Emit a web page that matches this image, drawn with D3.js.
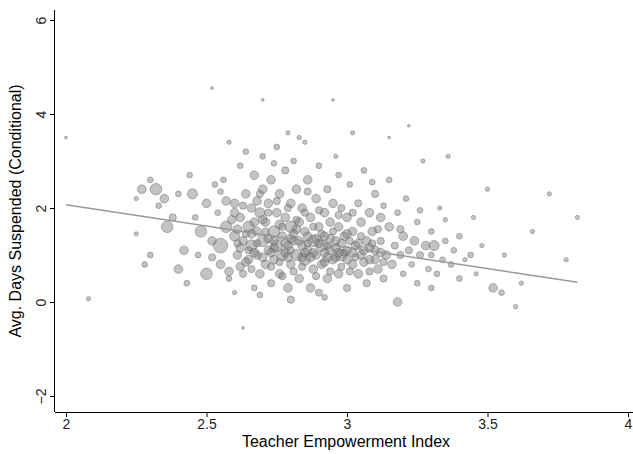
<!DOCTYPE html><html><head><meta charset="utf-8">
<script src="https://cdn.jsdelivr.net/npm/d3@7"></script>
<style>body{margin:0;background:#fff}</style></head><body><svg id="c" width="633" height="454"></svg>
<script>
const xTicks=[2,2.5,3,3.5,4];
const yTicks=[-2,0,2,4,6];
const xLabel="Teacher Empowerment Index";
const yLabel="Avg. Days Suspended (Conditional)";
const fitLine=[[2,2.07],[3.82,0.42]];
// [index, days, weight-radius]
const schools=[
[2.0,3.5,1],[2.08,0.07,1.5],[2.25,2.2,1.5],[2.27,2.4,3],[2.3,2.6,2],[2.32,2.4,4],[2.28,0.8,2],[2.35,2.2,3],[2.36,1.6,4],[2.38,1.8,2.5],
[2.4,2.3,2],[2.42,1.1,3],[2.4,0.7,3],[2.43,0.4,2],[2.45,2.3,3.5],[2.46,1.8,2],[2.48,1.5,4],[2.5,0.6,4],[2.5,2.1,3],[2.52,1.3,3],
[2.52,0.95,2.5],[2.54,1.9,2],[2.55,1.2,5],[2.55,0.8,3],[2.56,2.6,2],[2.57,1.6,4],[2.58,0.5,2],[2.58,3.4,1.5],[2.6,2.1,3],[2.6,1.4,3.5],
[2.6,0.2,1.5],[2.61,1.0,3],[2.62,1.8,3],[2.62,2.9,2],[2.63,1.3,3],[2.63,0.6,2.5],[2.64,2.3,3],[2.64,3.2,2],[2.65,1.6,4],[2.65,0.9,3],
[2.66,2.0,3],[2.66,1.2,4],[2.67,0.3,2],[2.67,2.7,3],[2.68,1.5,3],[2.68,1.0,3],[2.69,1.9,3.5],[2.69,0.6,3],[2.7,2.4,3],[2.7,1.3,4],
[2.7,3.1,2],[2.71,0.8,3],[2.71,1.7,3],[2.72,2.1,3],[2.72,1.1,3],[2.73,0.4,2.5],[2.73,2.6,3],[2.74,1.5,4],[2.74,0.9,3],[2.75,1.9,3],
[2.75,3.3,2],[2.75,1.2,4],[2.76,0.6,3],[2.76,2.3,3],[2.77,1.4,3],[2.77,1.0,4],[2.78,1.8,3],[2.78,2.8,2.5],[2.79,0.3,3],[2.79,1.2,3],
[2.8,1.6,4],[2.8,2.1,3],[2.8,0.8,3],[2.81,3.0,2],[2.81,1.3,3],[2.82,1.0,4],[2.82,2.4,3],[2.83,0.5,3],[2.83,1.7,3],[2.84,1.2,3],
[2.84,2.0,3],[2.85,0.9,4],[2.85,1.5,3],[2.85,3.4,1.5],[2.86,2.6,3],[2.86,1.1,3],[2.87,0.3,3],[2.87,1.8,3],[2.88,1.3,4],[2.88,0.7,3],
[2.89,2.2,3],[2.89,1.0,3],[2.9,1.6,3],[2.9,0.2,2.5],[2.9,2.9,2],[2.91,1.2,4],[2.91,0.8,3],[2.92,1.9,3],[2.92,1.4,3],[2.93,2.4,2.5],
[2.93,0.5,3],[2.94,1.1,3],[2.94,1.7,3],[2.95,0.9,3],[2.95,2.1,3],[2.96,1.3,3],[2.96,3.1,1.5],[2.97,0.6,3],[2.97,1.6,3],[2.98,1.0,4],
[2.98,2.0,2.5],[2.99,1.4,3],[3.0,0.3,2.5],[3.0,1.8,3],[3.0,1.1,3],[3.01,2.5,2],[3.02,0.8,3],[3.02,1.5,3],[3.03,1.2,3],[3.04,2.1,2.5],
[3.04,0.6,3],[3.05,1.0,3],[3.05,1.7,3],[3.06,2.8,2],[3.07,1.3,3],[3.07,0.4,2.5],[3.08,1.9,3],[3.08,0.9,3],[3.09,1.5,3],[3.1,1.1,3],
[3.1,2.3,2.5],[3.11,0.7,3],[3.12,1.3,2.5],[3.12,1.8,3],[3.13,0.5,2.5],[3.14,1.0,3],[3.15,1.6,3],[3.15,2.6,2],[3.16,0.8,3],[3.17,1.2,2.5],
[3.18,0.0,3],[3.18,1.9,2],[3.19,1.0,2.5],[3.2,1.4,3],[3.2,0.6,2],[3.21,2.2,2],[3.22,1.1,2.5],[3.23,0.8,2],[3.24,1.3,3],[3.25,0.4,2],
[3.25,1.7,2],[3.26,1.0,2.5],[3.27,3.0,1.5],[3.28,1.2,3],[3.29,0.7,2],[3.3,1.0,2],[3.3,1.5,2],[3.31,1.2,3.5],[3.32,0.6,2],[3.33,2.0,1.5],
[3.34,0.9,2],[3.35,1.3,2],[3.36,3.1,1.5],[3.37,0.8,2],[3.38,1.1,2],[3.4,0.5,2],[3.4,1.4,2],[3.42,0.9,1.5],[3.44,1.0,2],[3.46,0.6,1.5],
[3.48,1.2,1.5],[3.5,2.4,1.5],[3.52,0.3,3],[3.55,0.2,2],[3.56,1.0,1.5],[3.6,-0.1,1.5],[3.62,0.4,1.5],[3.66,1.5,1.5],[3.72,2.3,1.5],[3.78,0.9,1.5],
[3.82,1.8,1.5],[2.63,-0.55,1],[2.52,4.55,1],[2.79,3.6,1.5],[2.83,3.5,1.5],[2.95,4.3,1],[3.02,3.6,1.5],[3.15,3.5,1],[3.22,3.75,1],[2.7,4.3,1],
[2.55,2.35,2],[2.57,2.15,3],[2.59,1.75,3],[2.61,1.55,3],[2.62,1.15,3],[2.64,0.85,3],[2.66,1.45,3],[2.68,2.15,3],[2.7,1.75,3],[2.72,1.35,3],
[2.74,1.15,3],[2.76,1.65,3],[2.78,1.05,3],[2.8,1.35,3],[2.82,1.55,3],[2.84,0.95,3],[2.86,1.4,3],[2.88,1.05,3],[2.9,1.25,3],[2.92,1.05,3],
[2.94,1.35,3],[2.96,0.95,3],[2.98,1.25,3],[3.0,1.45,3],[3.02,1.05,3],[3.04,1.25,3],[3.06,0.85,3],[3.08,1.15,3],[3.1,0.9,3],[3.12,1.05,3],
[2.25,1.45,1.5],[2.3,1.0,2],[2.33,2.05,2],[2.44,2.7,2],[2.47,1.0,2],[2.53,2.5,2],[2.58,0.65,3],[2.69,0.15,2],[2.8,0.05,2.5],[2.92,0.1,2],
[2.74,2.95,2],[2.86,2.35,2.5],[2.97,2.7,2],[3.09,2.55,2],[3.13,2.05,2],[3.19,1.55,2.5],[3.26,1.95,2],[3.3,0.3,2],[3.35,1.75,1.5],[3.45,1.8,1.5]
];
const schoolsCore=[
[2.6,1.9,3],[2.61,1.25,2.5],[2.62,0.75,3],[2.63,2.05,2.5],[2.64,1.45,2.5],[2.65,1.1,2.5],[2.66,0.7,2.5],[2.67,1.7,3],[2.68,1.25,2.5],[2.69,2.3,2.5],
[2.7,0.95,3],[2.71,1.5,2.5],[2.72,1.9,2.5],[2.73,0.75,2.5],[2.74,1.3,3],[2.75,2.15,2.5],[2.76,0.85,2.5],[2.77,1.6,2.5],[2.78,1.25,3],[2.79,2.0,2.5],
[2.8,1.1,2.5],[2.81,0.65,2.5],[2.82,1.75,2.5],[2.83,1.3,3],[2.84,0.75,2.5],[2.85,1.9,2.5],[2.86,1.25,2.5],[2.87,0.95,3],[2.88,1.6,2.5],[2.89,0.55,2.5],
[2.9,1.95,2.5],[2.91,1.45,2.5],[2.92,0.85,3],[2.93,1.2,2.5],[2.94,0.65,2.5],[2.95,1.5,2.5],[2.96,1.15,3],[2.97,1.85,2.5],[2.98,0.75,2.5],[2.99,1.05,2.5],
[3.0,0.9,3],[3.01,1.3,2.5],[3.02,1.9,2.5],[3.03,0.95,2.5],[3.05,1.4,2.5],[3.06,1.1,3],[3.08,0.65,2.5],[3.09,1.25,2.5],[3.11,1.55,2.5],[3.13,0.85,2.5],
[2.73,1.05,3],[2.77,0.55,2.5],[2.81,1.45,3],[2.85,1.05,3],[2.89,1.35,3],[2.93,0.95,3],[2.97,1.05,3],[3.01,0.65,2.5],[2.79,0.95,3],[2.67,1.05,3]
];
const data=schools.concat(schoolsCore);
const W=633,H=454,m={l:55,r:5,t:10,b:42};
const svg=d3.select("#c");
const x=d3.scaleLinear().domain([2,4]).range([66,628]);
const y=d3.scaleLinear().domain([-2,6]).range([396,20]);
svg.append("g").selectAll("circle").data(data).join("circle")
 .attr("cx",d=>x(d[0])).attr("cy",d=>y(d[1])).attr("r",d=>d[2]*1.45)
 .attr("fill","#808080").attr("fill-opacity",0.47).attr("stroke","#555").attr("stroke-opacity",0.55).attr("stroke-width",0.7);
svg.append("line").attr("x1",x(fitLine[0][0])).attr("y1",y(fitLine[0][1])).attr("x2",x(fitLine[1][0])).attr("y2",y(fitLine[1][1]))
 .attr("stroke","#999").attr("stroke-width",1.5);
const xa=svg.append("g").attr("transform",`translate(0,${H-m.b})`).call(d3.axisBottom(x).tickValues(xTicks).tickFormat(d3.format("")).tickSize(5).tickPadding(2));
xa.select(".domain").attr("d",`M${m.l},0.5H${W}`);
const ya=svg.append("g").attr("transform",`translate(${m.l},0)`).call(d3.axisLeft(y).tickValues(yTicks).tickSize(5));
ya.select(".domain").attr("d",`M-0.5,${m.t}V${H-m.b}`);
ya.selectAll("text").attr("transform","rotate(-90)").attr("x",0).attr("y",-9).attr("dy","0").style("text-anchor","middle");
svg.selectAll(".tick text").style("font-family","Liberation Sans, Arial").style("font-size","14px").attr("fill","#222");
svg.append("text").attr("x",(m.l+W)/2+2).attr("y",447).attr("text-anchor","middle").style("font-family","Liberation Sans, Arial").style("font-size","16px").text(xLabel);
svg.append("text").attr("transform",`translate(21,${(m.t+H-m.b)/2}) rotate(-90)`).attr("text-anchor","middle").style("font-family","Liberation Sans, Arial").style("font-size","16px").text(yLabel);
</script></body></html>
